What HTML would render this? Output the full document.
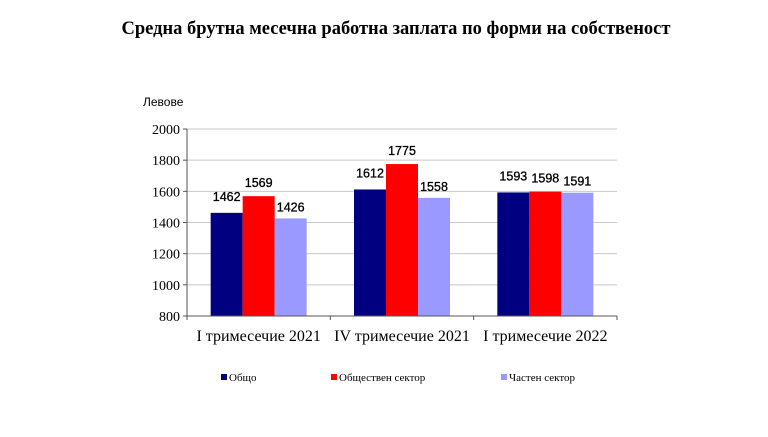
<!DOCTYPE html>
<html><head><meta charset="utf-8"><style>
body{margin:0;background:#fff;}
svg text{font-family:"Liberation Sans",sans-serif;}
.serif{font-family:"Liberation Serif",serif;}
</style></head><body>
<svg width="768" height="432" xmlns="http://www.w3.org/2000/svg">
<text x="396" y="34" text-anchor="middle" class="serif" font-size="18.5" font-weight="bold">Средна брутна месечна работна заплата по форми на собственост</text>
<text x="143" y="106" font-size="12">Левове</text>
<g id="grid"></g><g id="bars"></g><g id="axes"></g>
<g>
<rect x="221" y="374" width="6" height="6" fill="#000080"/>
<text x="229" y="381" class="serif" font-size="11">Общо</text>
<rect x="331" y="374" width="6" height="6" fill="#ff0000"/>
<text x="339" y="381" class="serif" font-size="11">Обществен сектор</text>
<rect x="501" y="374" width="6" height="6" fill="#9999ff"/>
<text x="509" y="381" class="serif" font-size="11">Частен сектор</text>
</g>
</svg>
<script>
const categories=["I тримесечие 2021","IV тримесечие 2021","I тримесечие 2022"];
const total=[1462,1612,1593];
const publicSector=[1569,1775,1598];
const privateSector=[1426,1558,1591];
const yTicks=[800,1000,1200,1400,1600,1800,2000];
const NS="http://www.w3.org/2000/svg";
const x0=187,x1=617,yTop=129,yBot=316,yMin=800,yMax=2000;
const y=v=>yBot-(v-yMin)/(yMax-yMin)*(yBot-yTop);
const gw=(x1-x0)/categories.length;
function mk(tag,attrs,parent){const e=document.createElementNS(NS,tag);for(const k in attrs)e.setAttribute(k,attrs[k]);parent.appendChild(e);return e;}
const grid=document.getElementById('grid'),bars=document.getElementById('bars'),axes=document.getElementById('axes');
yTicks.forEach(t=>{
 const l=mk('line',{x1:x0,x2:x1,y1:y(t),y2:y(t),stroke:'#c8c8c8','stroke-width':1},grid);
 
 
 const tk=mk('line',{x1:x0-4,x2:x0,y1:y(t),y2:y(t),stroke:'#555'},axes);
 
 
 const tx=mk('text',{x:x0-7,y:y(t)+5,'text-anchor':'end','font-size':'14',class:'serif'},axes);
 tx.textContent=t;
 
 
});
const series=[[total,'#000080','total'],[publicSector,'#ff0000','public'],[privateSector,'#9999ff','private']];
const bw=32;
categories.forEach((c,i)=>{
 const cx=x0+gw*(i+0.5);
 series.forEach((s,j)=>{
  const v=s[0][i],bx=cx-1.5*bw+j*bw;
  const r=mk('rect',{x:bx,y:y(v),width:bw,height:yBot-y(v),fill:s[1]},bars);
  
  
  const lb=mk('text',{x:bx+bw/2,y:y(v)-(j==1?9:12)+(j==2?5:0),'text-anchor':'middle','font-size':'12.5','stroke':'#000','stroke-width':'0.3'},bars);
  lb.textContent=v;
  
  
 });
 const ct=mk('text',{x:cx,y:341,'text-anchor':'middle','font-size':'16',class:'serif'},axes);
 ct.textContent=c;
 
 
});
for(let i=0;i<=categories.length;i++){
 const t=mk('line',{x1:x0+gw*i,x2:x0+gw*i,y1:yBot,y2:yBot+4,stroke:'#555'},axes);
 
 
}
const ya=mk('line',{x1:x0,x2:x0,y1:yTop,y2:yBot,stroke:'#555'},axes);


const xa=mk('line',{x1:x0-4,x2:x1,y1:yBot,y2:yBot,stroke:'#555'},axes);


</script>
</body></html>
